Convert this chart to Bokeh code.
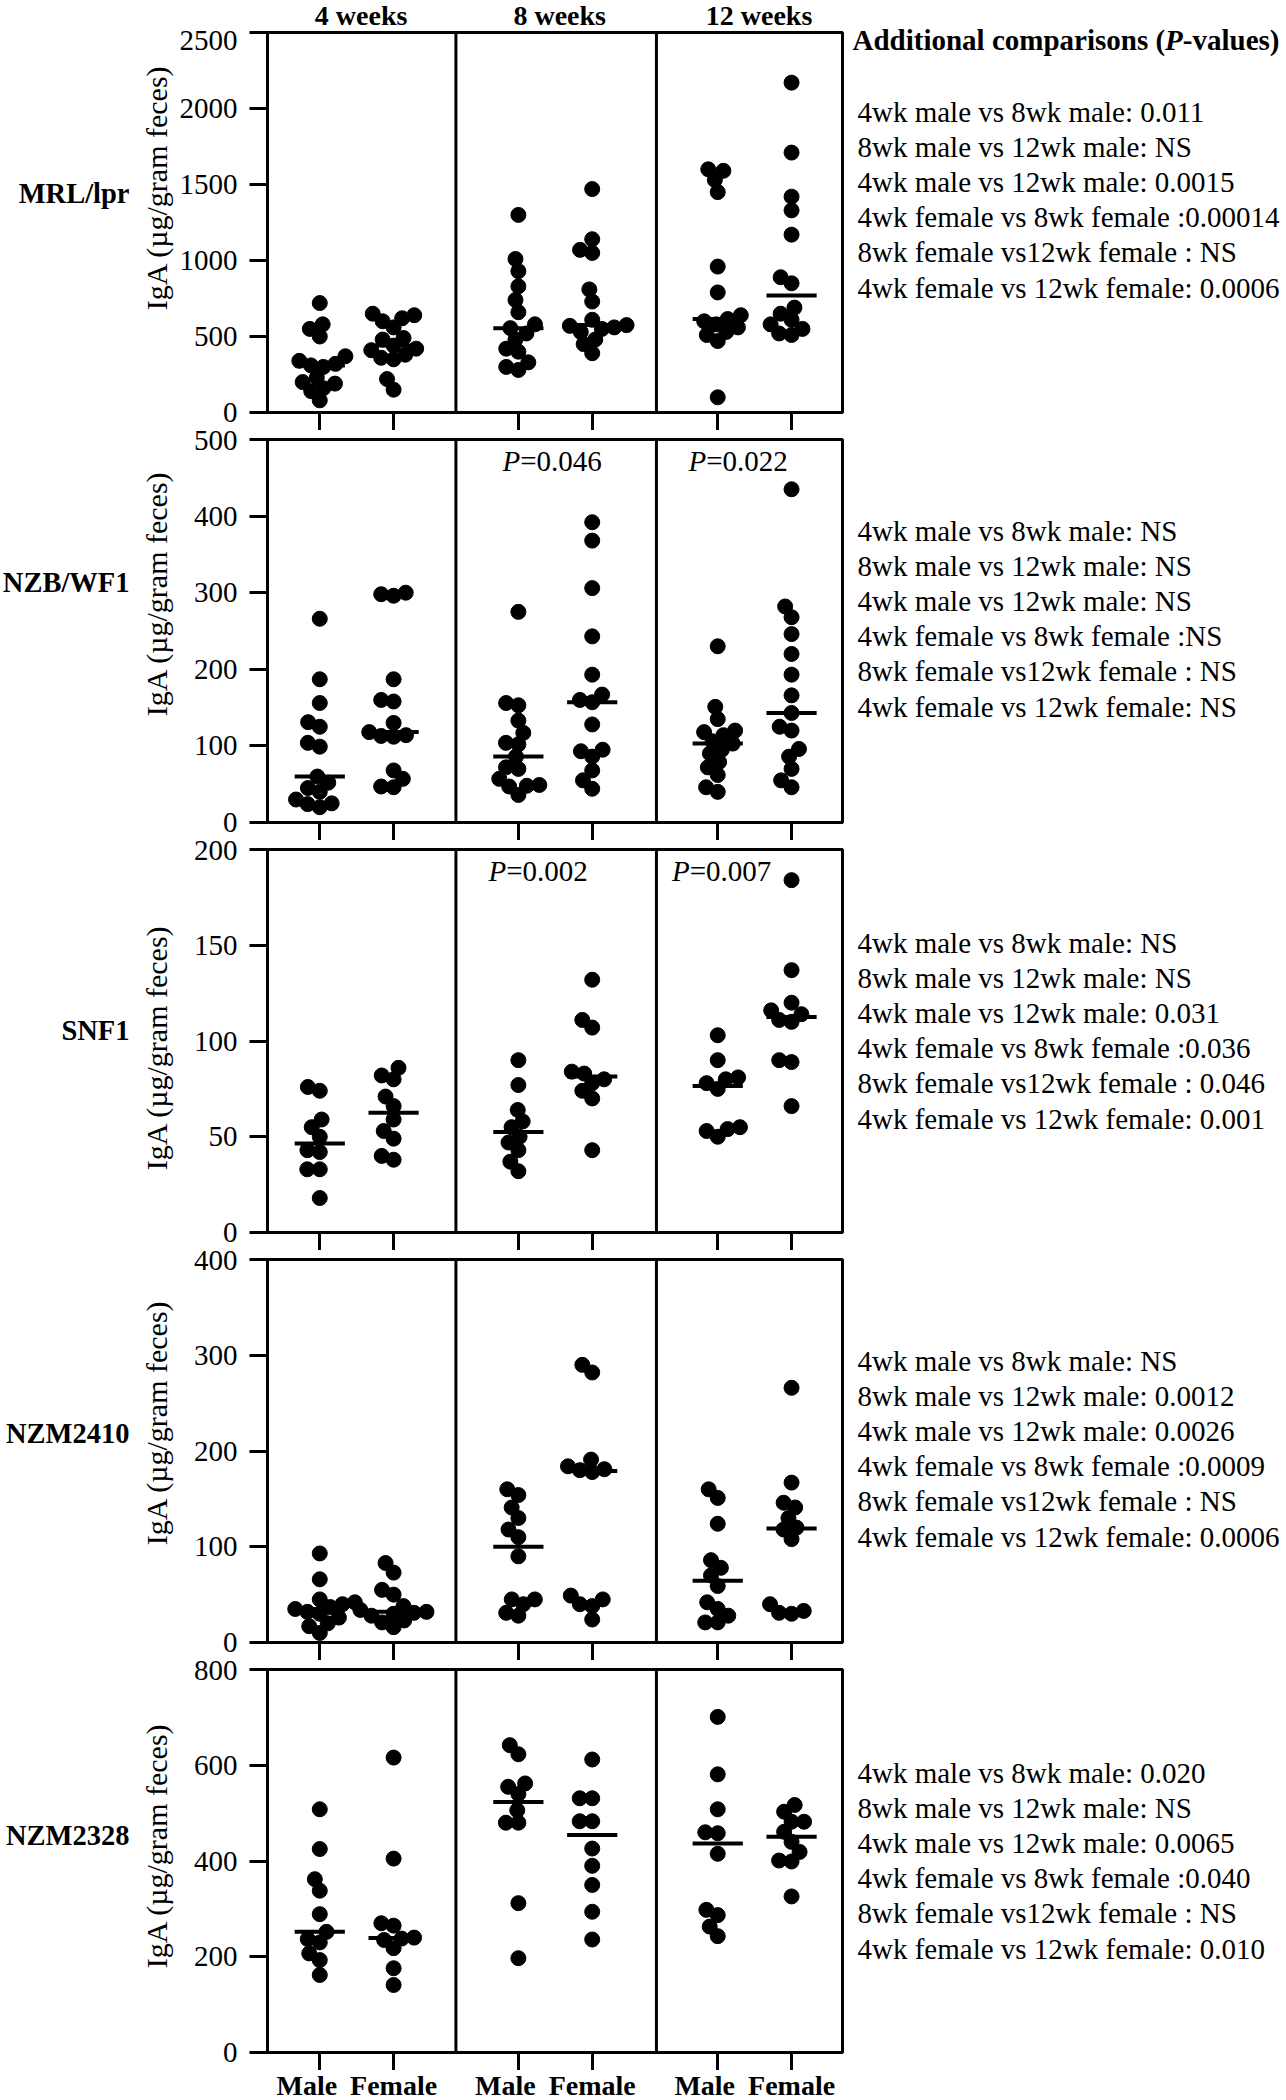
import numpy as np
from math import pi
from bokeh.plotting import figure
from bokeh.models import FixedTicker, Span, Label, Range1d, ColumnDataSource
from bokeh.layouts import column, row
from bokeh.embed import file_html
from bokeh.resources import INLINE

# ---------------- data ----------------
strains = ["MRL/lpr", "NZB/WF1", "SNF1", "NZM2410", "NZM2328"]
week_labels = ["4 weeks", "8 weeks", "12 weeks"]
sex_labels = ["Male", "Female"]

MRL_M4 = [720, 580, 550, 500, 370, 340, 320, 310, 300, 230, 200, 190, 160, 140, 80]
MRL_F4 = [650, 640, 620, 600, 560, 490, 480, 440, 420, 410, 380, 360, 350, 220, 150]
MRL_M8 = [1300, 1010, 930, 830, 740, 660, 580, 555, 520, 480, 420, 400, 330, 300, 280]
MRL_F8 = [1470, 1140, 1070, 1050, 810, 730, 610, 575, 570, 560, 550, 530, 480, 450, 390]
MRL_M12 = [1600, 1590, 1530, 1450, 960, 790, 640, 615, 600, 580, 560, 530, 510, 470, 100]
MRL_F12 = [2170, 1710, 1420, 1330, 1170, 890, 850, 690, 650, 610, 580, 550, 520, 510]

NZB_M4 = [266, 187, 156, 131, 125, 104, 99, 60, 52, 45, 40, 30, 25, 24, 20]
NZB_F4 = [300, 298, 296, 187, 160, 158, 130, 118, 114, 113, 112, 68, 57, 47, 46]
NZB_M8 = [275, 156, 153, 133, 117, 104, 102, 86, 72, 70, 57, 49, 48, 47, 36]
NZB_F8 = [392, 368, 306, 243, 193, 167, 160, 157, 128, 95, 93, 86, 68, 55, 44]
NZB_M12 = [230, 151, 135, 120, 118, 114, 106, 103, 95, 90, 79, 72, 62, 46, 40]
NZB_F12 = [435, 282, 268, 246, 220, 193, 166, 143, 125, 120, 96, 86, 70, 55, 46]

SNF_M4 = [76, 74, 59, 55, 50, 43, 42, 33, 33, 18]
SNF_F4 = [86, 82, 80, 71, 66, 59, 53, 49, 40, 38]
SNF_M8 = [90, 77, 64, 58, 55, 50, 47, 43, 37, 32]
SNF_F8 = [132, 111, 107, 84, 83, 80, 78, 74, 70, 43]
SNF_M12 = [103, 90, 81, 80, 78, 75, 55, 54, 53, 50]
SNF_F12 = [184, 137, 120, 116, 114, 111, 110, 90, 89, 66]

N2410_M4 = [93, 66, 45, 42, 40, 37, 35, 32, 30, 26, 20, 17, 10]
N2410_F4 = [83, 73, 55, 50, 38, 34, 32, 31, 30, 28, 23, 21, 16]
N2410_M8 = [160, 154, 141, 130, 118, 110, 90, 45, 45, 40, 31, 28]
N2410_F8 = [290, 282, 191, 184, 181, 180, 178, 49, 45, 40, 38, 24]
N2410_M12 = [160, 151, 124, 86, 78, 70, 59, 42, 35, 28, 21, 21]
N2410_F12 = [266, 167, 146, 141, 130, 120, 118, 108, 40, 33, 31, 30]

N2328_M4 = [508, 425, 362, 338, 289, 252, 237, 230, 207, 193, 162]
N2328_F4 = [616, 405, 270, 265, 240, 238, 235, 218, 176, 141]
N2328_M8 = [642, 623, 562, 555, 540, 506, 480, 480, 312, 197]
N2328_F8 = [612, 531, 531, 483, 483, 426, 390, 350, 294, 236]
N2328_M12 = [701, 581, 508, 460, 458, 415, 298, 287, 263, 243]
N2328_F12 = [517, 503, 482, 482, 461, 440, 419, 401, 399, 326]

y_ticks_mrl = [0, 500, 1000, 1500, 2000, 2500]
y_ticks_nzb = [0, 100, 200, 300, 400, 500]
y_ticks_snf = [0, 50, 100, 150, 200]
y_ticks_2410 = [0, 100, 200, 300, 400]
y_ticks_2328 = [0, 200, 400, 600, 800]

y_axis_title = "IgA (µg/gram feces)"

# male-vs-female P values shown inside panels (per week)
pair_p_nzb = ["", "0.046", "0.022"]
pair_p_snf = ["", "0.002", "0.007"]

comp_header = ["Additional comparisons (", "P", "-values)"]
comp_mrl = ["4wk male vs 8wk male: 0.011", "8wk male vs 12wk male: NS",
            "4wk male vs 12wk male: 0.0015", "4wk female vs 8wk female :0.00014",
            "8wk female vs12wk female : NS", "4wk female vs 12wk female: 0.0006"]
comp_nzb = ["4wk male vs 8wk male: NS", "8wk male vs 12wk male: NS",
            "4wk male vs 12wk male: NS", "4wk female vs 8wk female :NS",
            "8wk female vs12wk female : NS", "4wk female vs 12wk female: NS"]
comp_snf = ["4wk male vs 8wk male: NS", "8wk male vs 12wk male: NS",
            "4wk male vs 12wk male: 0.031", "4wk female vs 8wk female :0.036",
            "8wk female vs12wk female : 0.046", "4wk female vs 12wk female: 0.001"]
comp_2410 = ["4wk male vs 8wk male: NS", "8wk male vs 12wk male: 0.0012",
             "4wk male vs 12wk male: 0.0026", "4wk female vs 8wk female :0.0009",
             "8wk female vs12wk female : NS", "4wk female vs 12wk female: 0.0006"]
comp_2328 = ["4wk male vs 8wk male: 0.020", "8wk male vs 12wk male: NS",
             "4wk male vs 12wk male: 0.0065", "4wk female vs 8wk female :0.040",
             "8wk female vs12wk female : NS", "4wk female vs 12wk female: 0.010"]

panels = [
    dict(name=strains[0], groups=[[MRL_M4, MRL_F4], [MRL_M8, MRL_F8], [MRL_M12, MRL_F12]],
         ticks=y_ticks_mrl, pair=None, comps=comp_mrl),
    dict(name=strains[1], groups=[[NZB_M4, NZB_F4], [NZB_M8, NZB_F8], [NZB_M12, NZB_F12]],
         ticks=y_ticks_nzb, pair=pair_p_nzb, comps=comp_nzb),
    dict(name=strains[2], groups=[[SNF_M4, SNF_F4], [SNF_M8, SNF_F8], [SNF_M12, SNF_F12]],
         ticks=y_ticks_snf, pair=pair_p_snf, comps=comp_snf),
    dict(name=strains[3], groups=[[N2410_M4, N2410_F4], [N2410_M8, N2410_F8], [N2410_M12, N2410_F12]],
         ticks=y_ticks_2410, pair=None, comps=comp_2410),
    dict(name=strains[4], groups=[[N2328_M4, N2328_F4], [N2328_M8, N2328_F8], [N2328_M12, N2328_F12]],
         ticks=y_ticks_2328, pair=None, comps=comp_2328),
]

# ---------------- layout / style ----------------
SERIF = "Liberation Serif"
W, H_TOTAL = 1286, 2100
LEFT_W = 175            # left text column width
AX_W = 92               # y-axis border inside plot figures
FW = 575                # frame width
RB = 6                  # plot right border
MAIN_W = AX_W + FW + RB
RIGHT_W = W - LEFT_W - MAIN_W
FHS = [380, 383, 383, 383, 383]
XS, XE = -0.708, 7.08
GROUP_POS = [0.0, 2.69, 5.39]
DIVIDERS = [1.844, 4.56]
HEADER_H = 30
FOOTER_H = 30
TOP_B = [2, 9, 9, 9, 9]
BOT_B = [18, 18, 18, 18, 18]
NAME_Y = [193, 582, 1030, 1433, 1835]        # absolute page y of strain names
YLAB_Y = [187, 593, 1047, 1422, 1845]        # absolute page y of axis titles
COMP_Y0 = [111, 530, 942, 1360, 1772]        # absolute page y of first comparison line
COMP_HEAD_Y = 39
LINE_H = 35.2
P_XOFF = [None, [0, -0.215, -0.396], [0, -0.405, -0.62], None, None]
SEX_SHIFT = [-13, 0]
DOT = 15
SWARM_D = 12.5
FS = "29px"
UX = (XE - XS) / FW


def swarm(vals, px_per_val, diam):
    vals = np.asarray(vals, dtype=float)
    order = np.argsort(vals)
    placed = []
    xs = np.zeros(len(vals))
    for i in order:
        y = vals[i] * px_per_val
        forb = []
        for (px_, py_) in placed:
            dy = abs(y - py_)
            if dy < diam:
                dx = np.sqrt(diam ** 2 - dy ** 2)
                forb.append((px_ - dx, px_ + dx))
        cands = [0.0] + [a for a, b in forb] + [b for a, b in forb]
        cands.sort(key=lambda c: (abs(c), c))
        x = 0.0
        for c in cands:
            if all(not (a + 1e-6 < c < b - 1e-6) for a, b in forb):
                x = c
                break
        xs[i] = x
        placed.append((x, y))
    return xs


def text_fig(w, h, x_range=None, bl=0, br=0):
    f = figure(width=w, height=h,
               x_range=x_range if x_range is not None else Range1d(0, w),
               y_range=Range1d(0, h),
               output_backend="svg", toolbar_location=None, title=None,
               x_axis_location=None, y_axis_location=None,
               min_border=0, min_border_left=bl, min_border_right=br,
               min_border_top=0, min_border_bottom=0)
    f.outline_line_color = None
    f.xgrid.visible = False
    f.ygrid.visible = False
    f.background_fill_color = "white"
    f.border_fill_color = "white"
    return f


def add_text(f, x, y_from_top, text, h, **kw):
    opts = dict(text_font=SERIF, text_font_size=FS, text_color="black",
                text_align="left", text_baseline="middle")
    opts.update(kw)
    f.add_layout(Label(x=x, y=h - y_from_top, text=text, **opts))


# ---- middle column: header, 5 plots, footer (frames share the data x range) ----
header = text_fig(MAIN_W, HEADER_H, x_range=Range1d(XS, XE), bl=AX_W, br=RB)
for w, wl in enumerate(week_labels):
    add_text(header, GROUP_POS[w] + 0.56, 15, wl, HEADER_H,
             text_font_size="28px", text_font_style="bold", text_align="center")

mid = [header]
for i, pan in enumerate(panels):
    ticks = pan["ticks"]
    ymax = ticks[-1]
    FH = FHS[i]
    UY = ymax / FH
    H = TOP_B[i] + FH + BOT_B[i]
    p = figure(width=MAIN_W, height=H,
               x_range=Range1d(XS, XE), y_range=Range1d(0, ymax),
               output_backend="svg", toolbar_location=None, title=None,
               min_border_left=AX_W, min_border_right=RB,
               min_border_top=TOP_B[i], min_border_bottom=BOT_B[i])
    p.xgrid.visible = False
    p.ygrid.visible = False
    p.outline_line_color = "black"
    p.outline_line_width = 3
    p.outline_line_alpha = 1.0
    p.background_fill_color = "white"
    p.border_fill_color = "white"

    for ax in (p.xaxis[0], p.yaxis[0]):
        ax.axis_line_width = 3
        ax.axis_line_color = "black"
        ax.major_tick_line_width = 3
        ax.major_tick_line_color = "black"
        ax.major_tick_out = 18
        ax.major_tick_in = 0
        ax.minor_tick_line_color = None
    p.yaxis.ticker = FixedTicker(ticks=ticks)
    p.yaxis.major_label_text_font = SERIF
    p.yaxis.major_label_text_font_size = FS
    p.yaxis.major_label_text_color = "black"
    p.yaxis.major_label_standoff = 12
    xt = [g + s for g in GROUP_POS for s in range(len(sex_labels))]
    p.xaxis.ticker = FixedTicker(ticks=xt)
    p.xaxis.major_label_text_font_size = "1px"
    p.xaxis.major_label_text_color = None
    p.xaxis.major_label_standoff = 0

    for d in DIVIDERS:
        p.add_layout(Span(location=d, dimension="height", line_color="black", line_width=3))

    xs_all, ys_all, mx0, mx1, my = [], [], [], [], []
    for w, pair in enumerate(pan["groups"]):
        for s, vals in enumerate(pair):
            center = GROUP_POS[w] + s
            offs = swarm(vals, FH / ymax, SWARM_D)
            xs_all += list(center + offs * UX)
            ys_all += list(vals)
            med = float(np.median(vals))
            mx0.append(center - 0.34)
            mx1.append(center + 0.34)
            my.append(med)
    p.scatter(x="x", y="y", source=ColumnDataSource(dict(x=xs_all, y=ys_all)),
              size=DOT, fill_color="black", line_color="black")
    p.segment(x0="x0", x1="x1", y0="y", y1="y",
              source=ColumnDataSource(dict(x0=mx0, x1=mx1, y=my)),
              line_color="black", line_width=4)

    if pan["pair"] is not None:
        for w, pv in enumerate(pan["pair"]):
            if not pv:
                continue
            px0 = GROUP_POS[w] + P_XOFF[i][w]
            py0 = ymax - 21 * UY
            p.add_layout(Label(x=px0, y=py0, text="P", text_font=SERIF, text_font_size=FS,
                               text_font_style="italic", text_baseline="middle",
                               text_align="left", text_color="black"))
            p.add_layout(Label(x=px0 + 17.7 * UX, y=py0, text="=" + pv, text_font=SERIF,
                               text_font_size=FS, text_baseline="middle",
                               text_align="left", text_color="black"))
    mid.append(p)

footer = text_fig(MAIN_W, FOOTER_H, x_range=Range1d(XS, XE), bl=AX_W, br=RB)
for w in range(len(GROUP_POS)):
    for s, sl in enumerate(sex_labels):
        add_text(footer, GROUP_POS[w] + s + SEX_SHIFT[s] * UX, 15, sl, FOOTER_H,
                 text_font_size="28px", text_font_style="bold", text_align="center")
mid.append(footer)

# ---- left column: strain names and axis titles ----
left = text_fig(LEFT_W, H_TOTAL)
for i, pan in enumerate(panels):
    add_text(left, 129, NAME_Y[i], pan["name"], H_TOTAL,
             text_font_size="28.5px", text_font_style="bold", text_align="right")
    add_text(left, 156, YLAB_Y[i], y_axis_title, H_TOTAL,
             text_font_size="30px", text_align="center", angle=pi / 2)

# ---- right column: additional comparisons ----
right = text_fig(RIGHT_W, H_TOTAL)
add_text(right, 4, COMP_HEAD_Y, comp_header[0], H_TOTAL, text_font_style="bold")
add_text(right, 4 + 312.6, COMP_HEAD_Y, comp_header[1], H_TOTAL, text_font_style="bold italic")
add_text(right, 4 + 330.3, COMP_HEAD_Y, comp_header[2], H_TOTAL, text_font_style="bold")
for i, pan in enumerate(panels):
    for k, line in enumerate(pan["comps"]):
        add_text(right, 9, COMP_Y0[i] + k * LINE_H, line, H_TOTAL)

layout = row(left, column(*mid, spacing=0), right, spacing=0)
open("out.html", "w").write(file_html(layout, INLINE))
